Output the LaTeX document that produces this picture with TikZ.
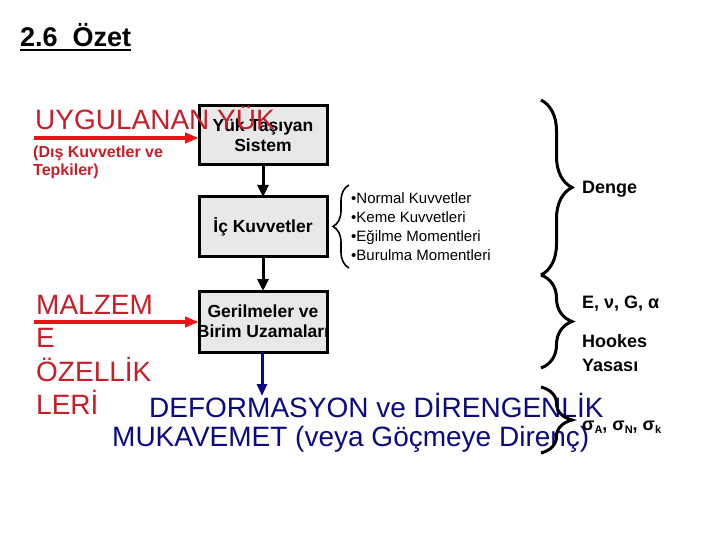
\documentclass[tikz,border=0pt]{standalone}
\usepackage{fontspec}
\setmainfont{Liberation Sans}
\usetikzlibrary{arrows.meta,decorations.pathreplacing}
\definecolor{txtred}{RGB}{200,30,40}
\definecolor{arrred}{RGB}{232,20,20}
\definecolor{navy}{RGB}{10,10,130}
\definecolor{boxgray}{RGB}{232,232,232}
\tikzset{
  flowbox/.style={draw=black,fill=boxgray,line width=3pt,minimum width=128pt,minimum height=59pt,inner sep=0pt,outer sep=0pt,align=center,font=\fontsize{17.5}{20}\selectfont\bfseries},
  blackarrow/.style={line width=3pt,-{Triangle[length=12pt,width=11pt]}},
  redarrow/.style={draw=arrred,line width=4pt,-{Triangle[length=14pt,width=10pt]}},
  bluearrow/.style={draw=navy,line width=3pt,-{Triangle[length=12pt,width=10pt]}},
  bigtxt/.style={inner sep=0pt,anchor=base west,font=\fontsize{28}{33}\selectfont},
  sidetxt/.style={inner sep=0pt,anchor=base west,font=\fontsize{18}{22}\selectfont\bfseries},
  smalltxt/.style={inner sep=0pt,anchor=base west,text=txtred,font=\fontsize{16}{18}\selectfont\bfseries},
  bigbrace/.style={decorate,decoration={brace,amplitude=31pt},line width=3pt},
  smallbrace/.style={decorate,decoration={brace,amplitude=16pt},line width=1.6pt}
}
\begin{document}
\begin{tikzpicture}[x=1pt,y=-1pt]
\useasboundingbox (0,0) rectangle (720,540);
% title
\node[inner sep=0pt,anchor=base west,font=\fontsize{27}{30}\selectfont\bfseries] (title) at (20,47) {2.6\ \ Özet};
\draw[line width=2pt] ([yshift=-3pt]title.base west) -- ([yshift=-3pt]title.base east);
% boxes
\node[flowbox] (b1) at (263,135.5) {Yük Taşıyan\\Sistem};
\node[flowbox] (b2) at (263,226.5) {İç Kuvvetler};
\node[flowbox,minimum height=61pt] (b3) at (263,321.5) {\makebox[110pt]{Gerilmeler ve}\\\makebox[110pt]{Birim Uzamaları}};
\draw[line width=3pt] (b3.north west) rectangle (b3.south east);
% arrows between boxes
\draw[blackarrow] (b1.south) -- (b2.north);
\draw[blackarrow] (b2.south) -- (b3.north);
\coordinate (def) at (262,396);
\draw[bluearrow] (b3.south -| def) -- (def);
% red inputs
\coordinate (ua) at (34,138);
\draw[redarrow] (ua) -- (ua -| b1.west);
\node[bigtxt,text=txtred] (uy) at (35,130) {UYGULANAN YÜK};
\node[smalltxt] (dis) at (33,158) {(Dış Kuvvetler ve};
\node[smalltxt] (tep) at (33,176) {Tepkiler)};
\coordinate (mz) at (34,322);
\draw[redarrow] (mz) -- (mz -| b3.west);
\node[bigtxt,text=txtred] (m1) at (36,314) {MALZEM};
\node[bigtxt,text=txtred] (m2) at (36,347) {E};
\node[bigtxt,text=txtred] (m3) at (36,381) {ÖZELLİK};
\node[bigtxt,text=txtred] (m4) at (36,414) {LERİ};
% bottom navy text
\node[bigtxt,text=navy] (d1) at (149,417) {DEFORMASYON ve DİRENGENLİK};
\node[bigtxt,text=navy] (d2) at (112,446) {MUKAVEMET (veya Göçmeye Direnç)};
% bullets
\coordinate (lb1) at (349,268);
\coordinate (lb2) at (349,185);
\draw[smallbrace] (lb1) -- (lb2);
\node[inner sep=0pt,anchor=north west,align=left,font=\fontsize{15}{19}\selectfont] (bl) at (351,192)
 {•Normal Kuvvetler\\•Keme Kuvvetleri\\•Eğilme Momentleri\\•Burulma Momentleri};
% big braces
\coordinate (r1t) at (541,100);
\coordinate (r1b) at (541,275);
\coordinate (r2b) at (541,368);
\coordinate (r3t) at (541,387);
\coordinate (r3b) at (541,453);
\draw[bigbrace] (r1t) -- (r1b);
\draw[bigbrace] (r1b) -- (r2b);
\draw[bigbrace] (r3t) -- (r3b);
% side texts
\node[sidetxt] (denge) at (582,194) {Denge};
\node[sidetxt] (evg) at (582,308) {E, ν, G, α};
\node[sidetxt] (hk) at (582,347) {Hookes};
\node[sidetxt] (ys) at (582,371) {Yasası};
\node[sidetxt] (sig) at (582,430) {σ\raisebox{-3pt}{\fontsize{11}{12}\selectfont A}, σ\raisebox{-3pt}{\fontsize{11}{12}\selectfont N}, σ\raisebox{-3pt}{\fontsize{11}{12}\selectfont k}};
\end{tikzpicture}
\end{document}
